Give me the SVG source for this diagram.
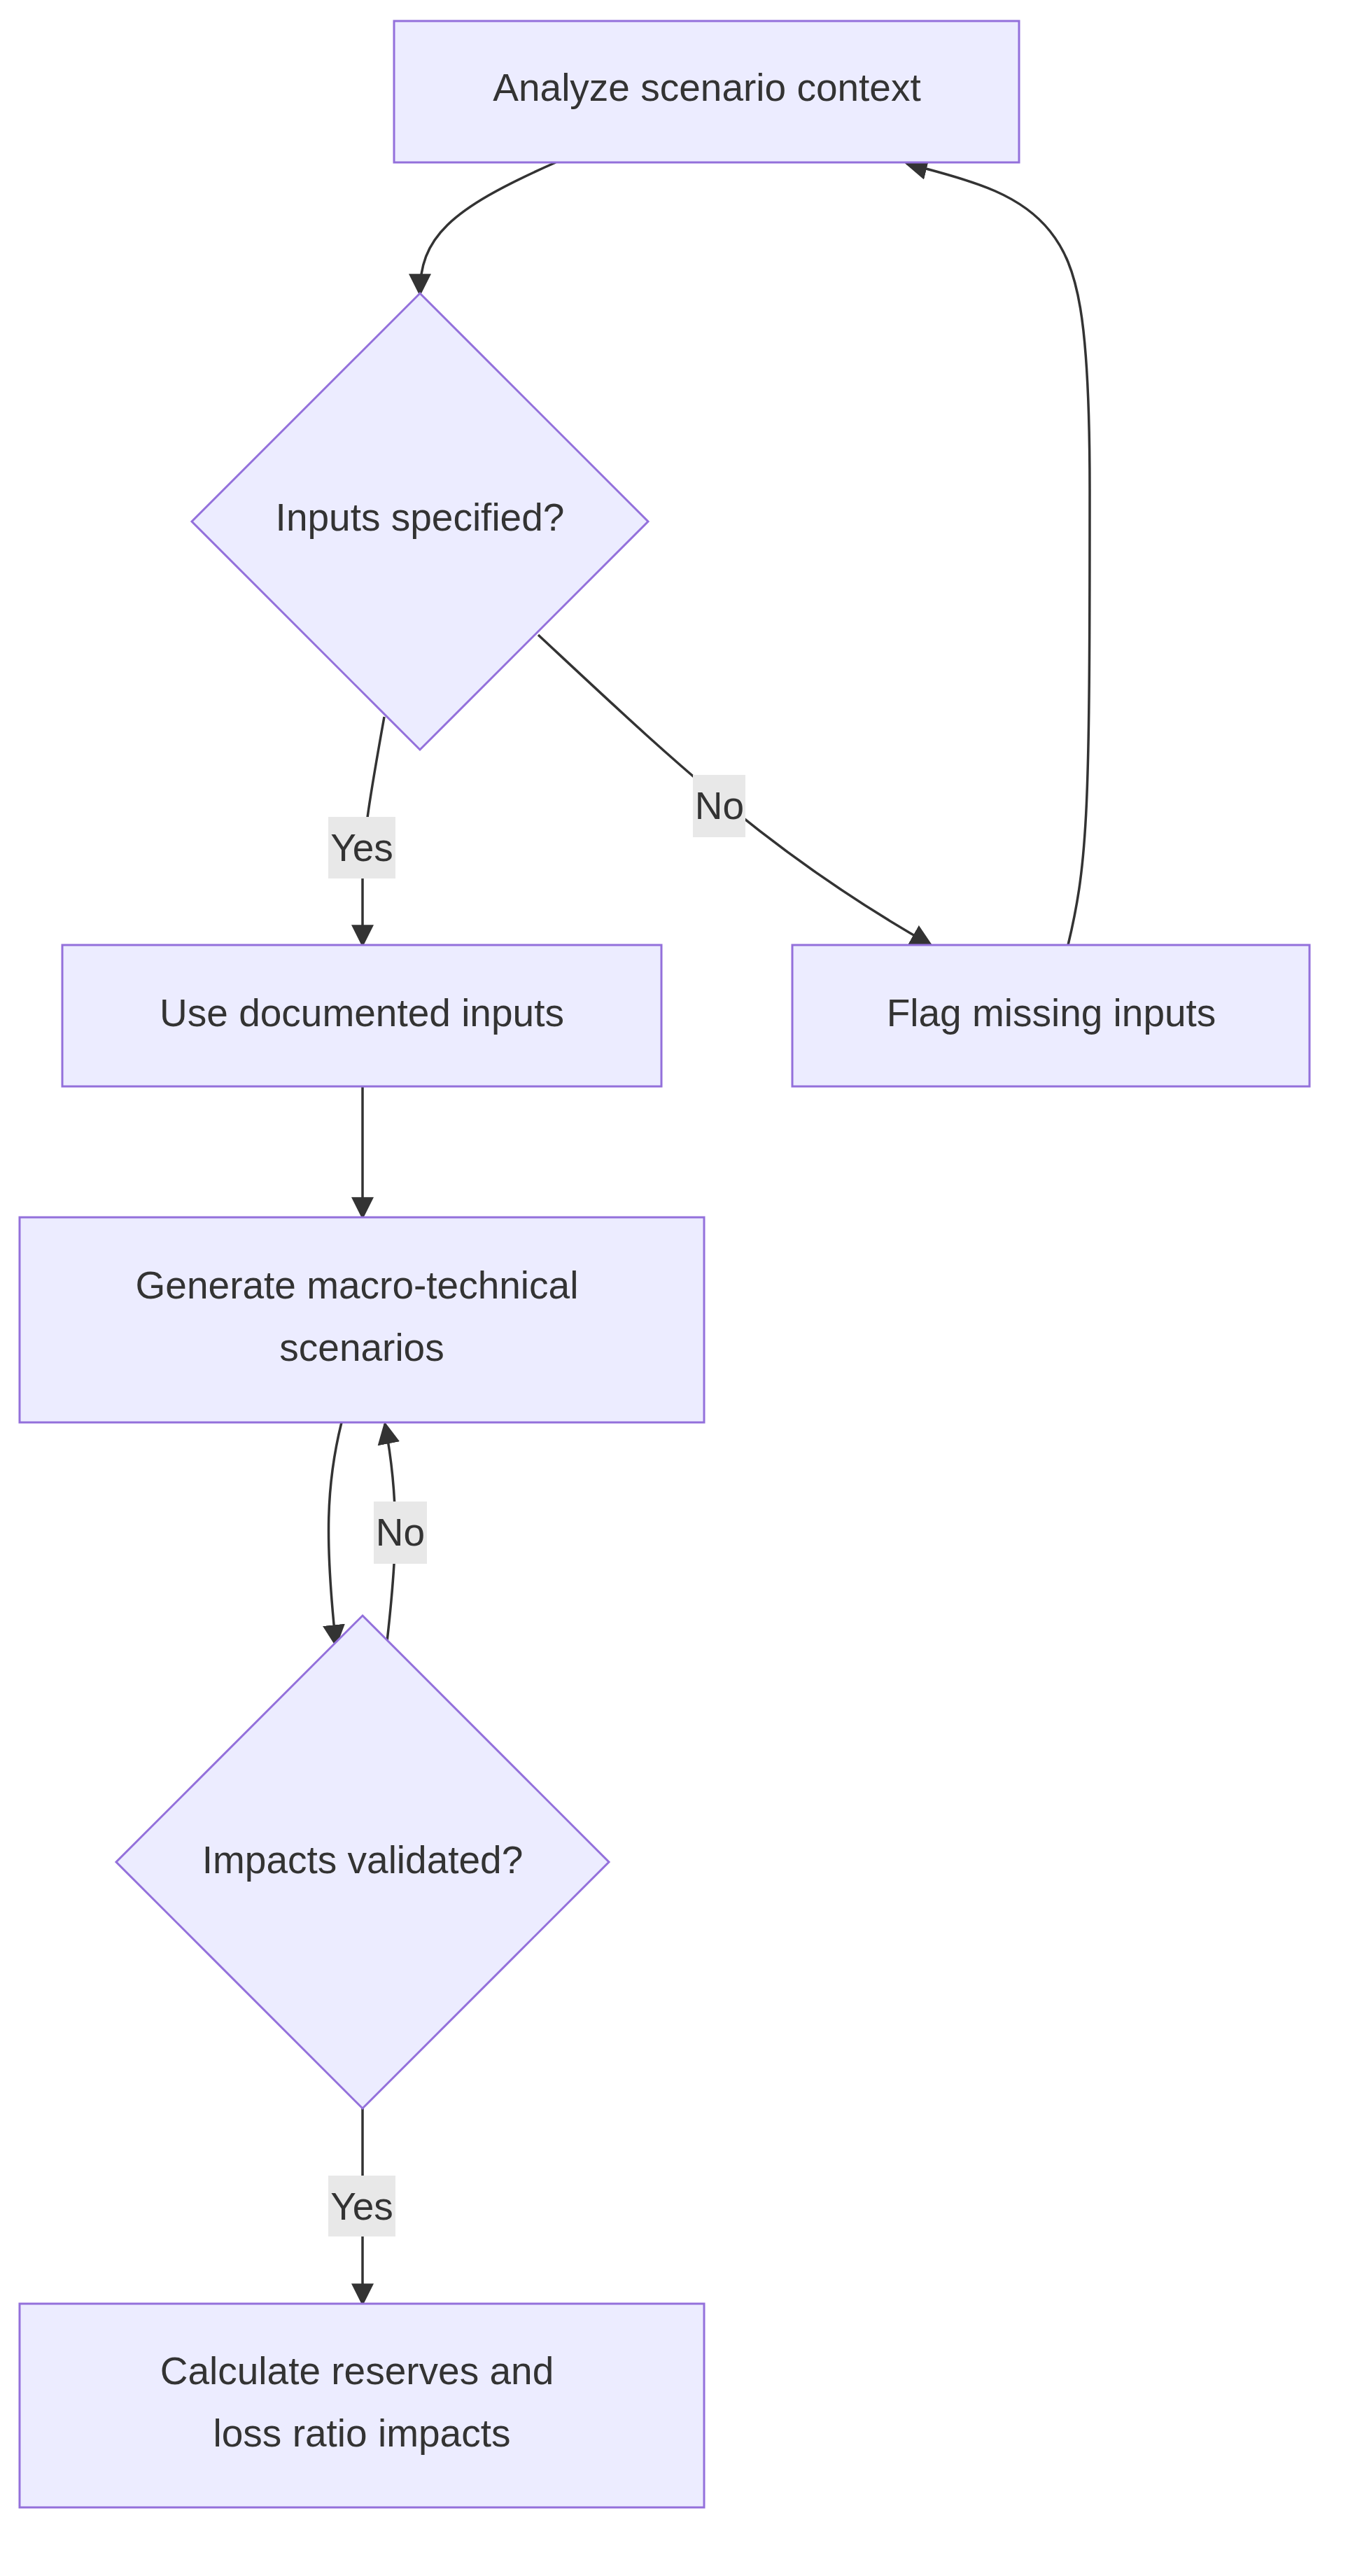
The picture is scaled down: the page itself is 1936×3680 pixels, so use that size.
<svg xmlns="http://www.w3.org/2000/svg" width="1936" height="3680" viewBox="0 0 1936 3680">
<style>
.n{fill:#ECECFF;stroke:#9370DB;stroke-width:3}
.t{font-family:"Liberation Sans",Arial,sans-serif;font-size:55px;fill:#333;text-anchor:middle}
.e{fill:none;stroke:#333;stroke-width:3.5}
.lb{fill:#e8e8e8}
</style>
<defs><marker id="a" viewBox="0 0 10 10" refX="9" refY="5" markerWidth="8" markerHeight="8" markerUnits="userSpaceOnUse" orient="auto-start-reverse"><path d="M0,0L10,5L0,10z" fill="#333"/></marker>
<marker id="m" viewBox="0 0 10 10" refX="9" refY="5" markerWidth="32" markerHeight="32" markerUnits="userSpaceOnUse" orient="auto"><path d="M0,0L10,5L0,10z" fill="#333"/></marker></defs>
<rect width="1936" height="3680" fill="#fff"/>
<g id="edges">
<path class="e" marker-end="url(#m)" d="M794,232 C640,300 600,340 600,420"/>
<path class="e" marker-end="url(#m)" d="M549,1024 C530,1130 518,1200 518,1250 L518,1350"/>
<path class="e" marker-end="url(#m)" d="M769,907 C960,1085 1100,1220 1330,1350"/>
<path class="e" marker-end="url(#m)" d="M1526,1350 C1555,1230 1557,1150 1557,700 C1557,450 1540,380 1500,330 C1460,280 1400,260 1296,234"/>
<path class="e" marker-end="url(#m)" d="M518,1552 L518,1739"/>
<path class="e" marker-end="url(#m)" d="M488,2032 C466,2120 464,2200 480,2350"/>
<path class="e" marker-end="url(#m)" d="M553,2345 C566,2230 572,2150 550,2034"/>
<path class="e" marker-end="url(#m)" d="M518,3012 L518,3291"/>
<rect class="lb" x="469" y="1167" width="96" height="88"/><text class="t" x="517" y="1230">Yes</text>
<rect class="lb" x="990" y="1107" width="75" height="89"/><text class="t" x="1028" y="1170">No</text>
<rect class="lb" x="534" y="2145" width="76" height="89"/><text class="t" x="572" y="2208">No</text>
<rect class="lb" x="469" y="3108" width="96" height="87"/><text class="t" x="517" y="3171">Yes</text>
</g>
<g id="n1"><rect class="n" x="563" y="30" width="893" height="202"/><text class="t" x="1010" y="144">Analyze scenario context</text></g>
<g id="n2"><polygon class="n" points="600,419 926,745 600,1071 274,745"/><text class="t" x="600" y="758">Inputs specified?</text></g>
<g id="n3"><rect class="n" x="89" y="1350" width="856" height="202"/><text class="t" x="517" y="1466">Use documented inputs</text></g>
<g id="n4"><rect class="n" x="1132" y="1350" width="739" height="202"/><text class="t" x="1502" y="1466">Flag missing inputs</text></g>
<g id="n5"><rect class="n" x="28" y="1739" width="978" height="293"/><text class="t" x="510" y="1855">Generate macro-technical</text><text class="t" x="517" y="1944">scenarios</text></g>
<g id="n6"><polygon class="n" points="518,2308 870,2660 518,3012 166,2660"/><text class="t" x="518" y="2676">Impacts validated?</text></g>
<g id="n7"><rect class="n" x="28" y="3291" width="978" height="291"/><text class="t" x="510" y="3406">Calculate reserves and</text><text class="t" x="517" y="3495">loss ratio impacts</text></g>
</svg>
